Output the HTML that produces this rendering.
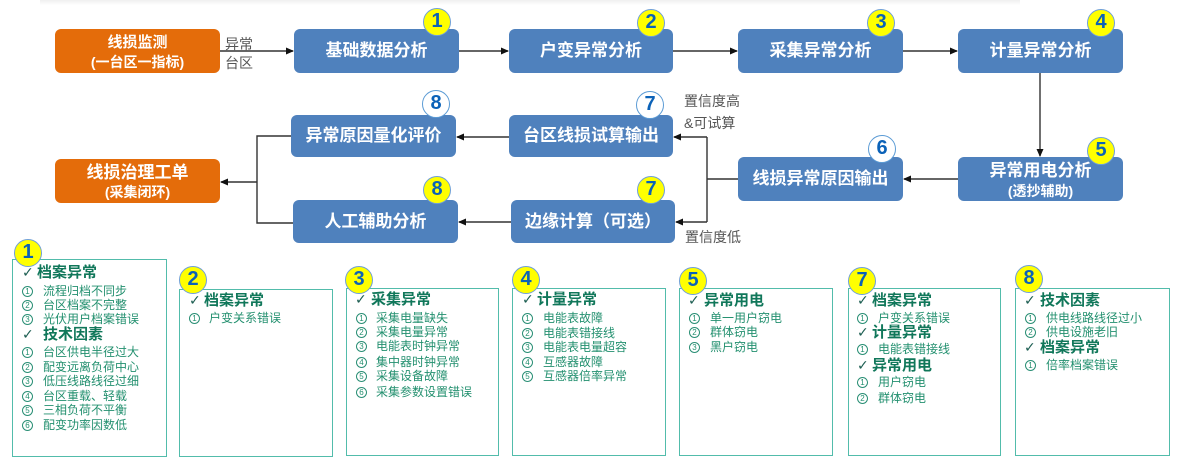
<!DOCTYPE html>
<html><head><meta charset="utf-8">
<style>
*{margin:0;padding:0;box-sizing:border-box}
body{width:1177px;height:468px;background:#fff;position:relative;overflow:hidden;font-family:"Liberation Sans","Noto Sans CJK SC",sans-serif}
.shadow{position:absolute;left:40px;top:0;width:980px;height:5px;background:linear-gradient(#f0f0f0,#fff);}
.bx{position:absolute;border-radius:6px;color:#fff;font-weight:bold;text-align:center;}
.blue{background:#4f81bd;}
.org{background:#e46c0a;}
.bx .t{position:absolute;left:0;right:0;white-space:nowrap;line-height:20px;}
.bd{position:absolute;width:28px;height:28px;border-radius:50%;border:1.5px solid #6f9fd6;background:#ffff00;color:#0b62b8;font-weight:bold;font-size:20px;line-height:25px;text-align:center;font-family:"Liberation Sans",sans-serif;}
.bd.w{background:#fff;border-color:#5b9bd5;}
.lbl{position:absolute;color:#555;font-size:14px;line-height:18px;white-space:nowrap;}
.card{position:absolute;border:1.5px solid #52bcab;background:#fff;}
.ln{position:absolute;white-space:nowrap;line-height:16px;}
.h{font-size:15px;font-weight:bold;color:#10775a;}
.i{font-size:12px;color:#23906f;}
.ck{position:absolute;font-size:14px;color:#1d5e52;line-height:16px;font-family:"DejaVu Sans",sans-serif;}
.nm{position:absolute;width:11px;height:11px;margin-top:2.5px;margin-left:1px;border:1px solid #2a8f75;border-radius:50%;font-size:8px;color:#23906f;line-height:9px;text-align:center;font-family:"Liberation Sans",sans-serif;}
</style></head><body>
<div class="shadow"></div>

<svg width="1177" height="468" style="position:absolute;left:0;top:0" xmlns="http://www.w3.org/2000/svg">
<defs><marker id="a" markerWidth="8" markerHeight="8" refX="7" refY="4" orient="auto" markerUnits="userSpaceOnUse"><path d="M0,0.5 L8,4 L0,7.5 z" fill="#111"/></marker></defs>
<g stroke="#333" stroke-width="1.4" fill="none">
<line x1="220" y1="51" x2="293" y2="51" marker-end="url(#a)"/>
<line x1="459" y1="51" x2="508" y2="51" marker-end="url(#a)"/>
<line x1="673" y1="51" x2="737" y2="51" marker-end="url(#a)"/>
<line x1="903" y1="51" x2="957" y2="51" marker-end="url(#a)"/>
<line x1="1040" y1="73" x2="1040" y2="156" marker-end="url(#a)"/>
<line x1="958" y1="179" x2="904" y2="179" marker-end="url(#a)"/>
<polyline points="738,179 707,179"/>
<line x1="707" y1="137" x2="707" y2="222"/>
<line x1="707" y1="137" x2="674" y2="137" marker-end="url(#a)"/>
<line x1="707" y1="222" x2="676" y2="222" marker-end="url(#a)"/>
<line x1="509" y1="137" x2="457" y2="137" marker-end="url(#a)"/>
<line x1="511" y1="222" x2="459" y2="222" marker-end="url(#a)"/>
<polyline points="291,136 257,136 257,223 293,223"/>
<line x1="257" y1="182" x2="221" y2="182" marker-end="url(#a)"/>
</g>
</svg>

<!-- top row -->
<div class="bx org" style="left:55px;top:29px;width:165px;height:44px;">
 <div class="t" style="top:4px;font-size:15px;">线损监测</div>
 <div class="t" style="top:23px;font-size:14px;">(一台区一指标)</div>
</div>
<div class="lbl" style="left:225px;top:35px;">异常</div>
<div class="lbl" style="left:225px;top:54px;">台区</div>

<div class="bx blue" style="left:294px;top:29px;width:165px;height:44px;"><div class="t" style="top:12px;font-size:17px;">基础数据分析</div></div>
<div class="bx blue" style="left:509px;top:29px;width:164px;height:44px;"><div class="t" style="top:12px;font-size:17px;">户变异常分析</div></div>
<div class="bx blue" style="left:738px;top:29px;width:165px;height:44px;"><div class="t" style="top:12px;font-size:17px;">采集异常分析</div></div>
<div class="bx blue" style="left:958px;top:29px;width:165px;height:44px;"><div class="t" style="top:12px;font-size:17px;">计量异常分析</div></div>

<!-- second row -->
<div class="bx blue" style="left:291px;top:115px;width:165px;height:42px;"><div class="t" style="top:11px;font-size:17px;">异常原因量化评价</div></div>
<div class="bx blue" style="left:509px;top:115px;width:164px;height:42px;"><div class="t" style="top:11px;font-size:17px;">台区线损试算输出</div></div>
<div class="lbl" style="left:684px;top:92px;">置信度高</div>
<div class="lbl" style="left:684px;top:114px;">&amp;可试算</div>

<div class="bx org" style="left:55px;top:159px;width:165px;height:44px;">
 <div class="t" style="top:4px;font-size:17px;">线损治理工单</div>
 <div class="t" style="top:23px;font-size:14px;">(采集闭环)</div>
</div>
<div class="bx blue" style="left:738px;top:157px;width:165px;height:44px;"><div class="t" style="top:12px;font-size:17px;">线损异常原因输出</div></div>
<div class="bx blue" style="left:958px;top:157px;width:165px;height:44px;">
 <div class="t" style="top:4px;font-size:17px;">异常用电分析</div>
 <div class="t" style="top:24px;font-size:14px;">(透抄辅助)</div>
</div>

<div class="bx blue" style="left:293px;top:200px;width:165px;height:43px;"><div class="t" style="top:12px;font-size:17px;">人工辅助分析</div></div>
<div class="bx blue" style="left:511px;top:200px;width:164px;height:43px;"><div class="t" style="top:12px;font-size:17px;">边缘计算（可选）</div></div>
<div class="lbl" style="left:685px;top:228px;">置信度低</div>

<!-- badges top -->
<div class="bd" style="left:423px;top:8px;">1</div>
<div class="bd" style="left:637px;top:9px;">2</div>
<div class="bd" style="left:867px;top:9px;">3</div>
<div class="bd" style="left:1087px;top:9px;">4</div>
<div class="bd w" style="left:422px;top:90px;">8</div>
<div class="bd w" style="left:636px;top:91px;">7</div>
<div class="bd w" style="left:868px;top:135px;">6</div>
<div class="bd" style="left:1087px;top:137px;">5</div>
<div class="bd" style="left:423px;top:176px;">8</div>
<div class="bd" style="left:637px;top:176px;">7</div>

<!-- bottom cards -->
<div class="card" style="left:12px;top:259px;width:155px;height:198px;"></div>
<div class="card" style="left:179px;top:289px;width:154px;height:168px;"></div>
<div class="card" style="left:346px;top:288px;width:153px;height:168px;"></div>
<div class="card" style="left:512px;top:288px;width:154px;height:168px;"></div>
<div class="card" style="left:679px;top:288px;width:154px;height:168px;"></div>
<div class="card" style="left:848px;top:288px;width:153px;height:168px;"></div>
<div class="card" style="left:1015px;top:288px;width:155px;height:168px;"></div>

<div class="bd" style="left:14px;top:239px;">1</div>
<div class="bd" style="left:179px;top:266px;">2</div>
<div class="bd" style="left:345px;top:266px;">3</div>
<div class="bd" style="left:512px;top:266px;">4</div>
<div class="bd" style="left:679px;top:267px;">5</div>
<div class="bd" style="left:848px;top:267px;">7</div>
<div class="bd" style="left:1015px;top:265px;">8</div>

<!-- card 1 (left 12) -->
<div class="ck" style="left:22px;top:265px;">✓</div><div class="ln h" style="left:37px;top:265px;">档案异常</div>
<div class="nm" style="left:21px;top:283px;">1</div><div class="ln i" style="left:43px;top:283px;">流程归档不同步</div>
<div class="nm" style="left:21px;top:297px;">2</div><div class="ln i" style="left:43px;top:297px;">台区档案不完整</div>
<div class="nm" style="left:21px;top:311px;">3</div><div class="ln i" style="left:43px;top:311px;">光伏用户档案错误</div>
<div class="ck" style="left:22px;top:327px;">✓</div><div class="ln h" style="left:43px;top:327px;">技术因素</div>
<div class="nm" style="left:21px;top:344px;">1</div><div class="ln i" style="left:43px;top:344px;">台区供电半径过大</div>
<div class="nm" style="left:21px;top:359px;">2</div><div class="ln i" style="left:43px;top:359px;">配变远离负荷中心</div>
<div class="nm" style="left:21px;top:373px;">3</div><div class="ln i" style="left:43px;top:373px;">低压线路线径过细</div>
<div class="nm" style="left:21px;top:388px;">4</div><div class="ln i" style="left:43px;top:388px;">台区重载、轻载</div>
<div class="nm" style="left:21px;top:402px;">5</div><div class="ln i" style="left:43px;top:402px;">三相负荷不平衡</div>
<div class="nm" style="left:21px;top:417px;">6</div><div class="ln i" style="left:43px;top:417px;">配变功率因数低</div>

<!-- card 2 (left 179) -->
<div class="ck" style="left:189px;top:293px;">✓</div><div class="ln h" style="left:204px;top:293px;">档案异常</div>
<div class="nm" style="left:188px;top:310px;">1</div><div class="ln i" style="left:209px;top:310px;">户变关系错误</div>

<!-- card 3 (left 346) -->
<div class="ck" style="left:355px;top:292px;">✓</div><div class="ln h" style="left:371px;top:292px;">采集异常</div>
<div class="nm" style="left:355px;top:310px;">1</div><div class="ln i" style="left:376px;top:310px;">采集电量缺失</div>
<div class="nm" style="left:355px;top:324px;">2</div><div class="ln i" style="left:376px;top:324px;">采集电量异常</div>
<div class="nm" style="left:355px;top:338px;">3</div><div class="ln i" style="left:376px;top:338px;">电能表时钟异常</div>
<div class="nm" style="left:355px;top:354px;">4</div><div class="ln i" style="left:376px;top:354px;">集中器时钟异常</div>
<div class="nm" style="left:355px;top:368px;">5</div><div class="ln i" style="left:376px;top:368px;">采集设备故障</div>
<div class="nm" style="left:355px;top:384px;">6</div><div class="ln i" style="left:376px;top:384px;">采集参数设置错误</div>

<!-- card 4 (left 512) -->
<div class="ck" style="left:522px;top:292px;">✓</div><div class="ln h" style="left:537px;top:292px;">计量异常</div>
<div class="nm" style="left:521px;top:310px;">1</div><div class="ln i" style="left:543px;top:310px;">电能表故障</div>
<div class="nm" style="left:521px;top:325px;">2</div><div class="ln i" style="left:543px;top:325px;">电能表错接线</div>
<div class="nm" style="left:521px;top:339px;">3</div><div class="ln i" style="left:543px;top:339px;">电能表电量超容</div>
<div class="nm" style="left:521px;top:354px;">4</div><div class="ln i" style="left:543px;top:354px;">互感器故障</div>
<div class="nm" style="left:521px;top:368px;">5</div><div class="ln i" style="left:543px;top:368px;">互感器倍率异常</div>

<!-- card 5 (left 679) -->
<div class="ck" style="left:688px;top:293px;">✓</div><div class="ln h" style="left:704px;top:293px;">异常用电</div>
<div class="nm" style="left:688px;top:310px;">1</div><div class="ln i" style="left:710px;top:310px;">单一用户窃电</div>
<div class="nm" style="left:688px;top:324px;">2</div><div class="ln i" style="left:710px;top:324px;">群体窃电</div>
<div class="nm" style="left:688px;top:339px;">3</div><div class="ln i" style="left:710px;top:339px;">黑户窃电</div>

<!-- card 7 (left 848) -->
<div class="ck" style="left:857px;top:293px;">✓</div><div class="ln h" style="left:872px;top:293px;">档案异常</div>
<div class="nm" style="left:856px;top:310px;">1</div><div class="ln i" style="left:878px;top:310px;">户变关系错误</div>
<div class="ck" style="left:857px;top:325px;">✓</div><div class="ln h" style="left:872px;top:325px;">计量异常</div>
<div class="nm" style="left:856px;top:341px;">1</div><div class="ln i" style="left:878px;top:341px;">电能表错接线</div>
<div class="ck" style="left:857px;top:358px;">✓</div><div class="ln h" style="left:872px;top:358px;">异常用电</div>
<div class="nm" style="left:856px;top:374px;">1</div><div class="ln i" style="left:878px;top:374px;">用户窃电</div>
<div class="nm" style="left:856px;top:390px;">2</div><div class="ln i" style="left:878px;top:390px;">群体窃电</div>

<!-- card 8 (left 1015) -->
<div class="ck" style="left:1024px;top:293px;">✓</div><div class="ln h" style="left:1040px;top:293px;">技术因素</div>
<div class="nm" style="left:1024px;top:310px;">1</div><div class="ln i" style="left:1046px;top:310px;">供电线路线径过小</div>
<div class="nm" style="left:1024px;top:324px;">2</div><div class="ln i" style="left:1046px;top:324px;">供电设施老旧</div>
<div class="ck" style="left:1024px;top:340px;">✓</div><div class="ln h" style="left:1040px;top:340px;">档案异常</div>
<div class="nm" style="left:1024px;top:357px;">1</div><div class="ln i" style="left:1046px;top:357px;">倍率档案错误</div>

</body></html>
